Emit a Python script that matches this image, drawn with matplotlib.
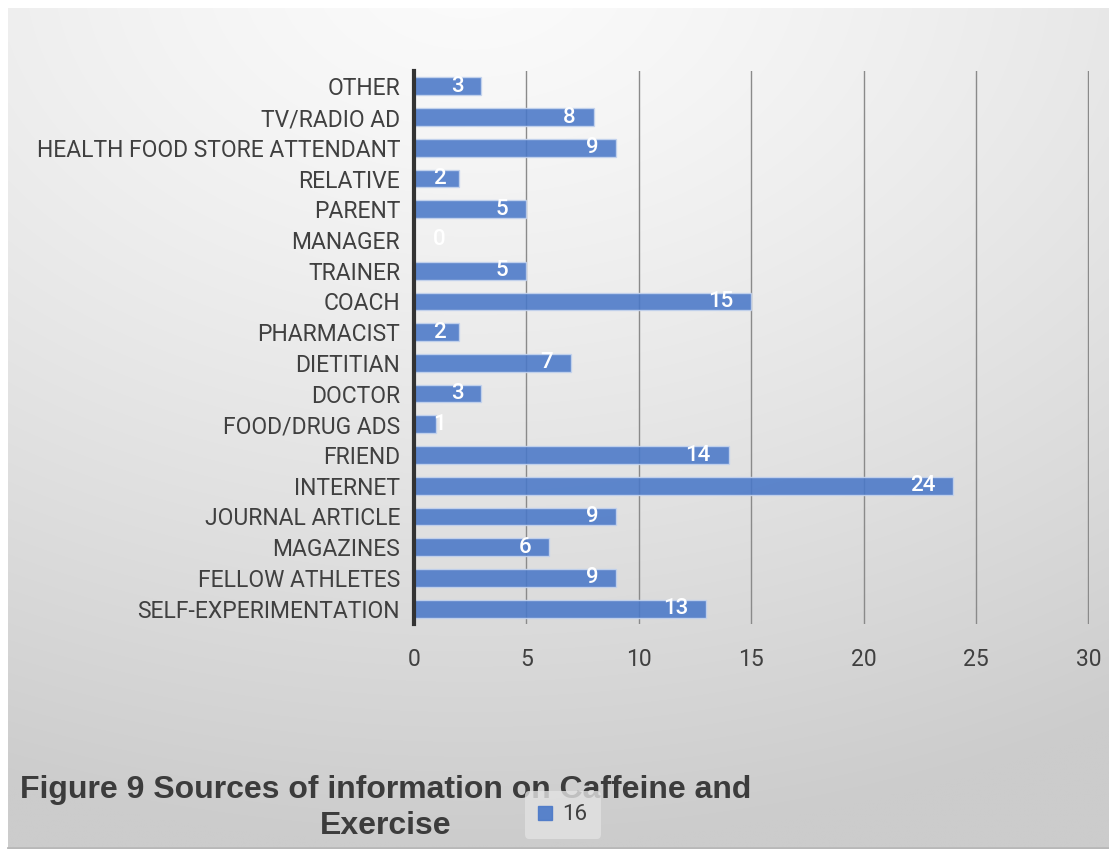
import numpy as np
import matplotlib
matplotlib.use("Agg")
from matplotlib import pyplot as plt
from matplotlib.patches import Patch

# sources, listed bottom to top
categories = ["SELF-EXPERIMENTATION", "FELLOW ATHLETES", "MAGAZINES", "JOURNAL ARTICLE",
              "INTERNET", "FRIEND", "FOOD/DRUG ADS", "DOCTOR", "DIETITIAN", "PHARMACIST",
              "COACH", "TRAINER", "MANAGER", "PARENT", "RELATIVE",
              "HEALTH FOOD STORE ATTENDANT", "TV/RADIO AD", "OTHER"]
counts = [13, 9, 6, 9, 24, 14, 1, 3, 7, 2, 15, 5, 0, 5, 2, 9, 8, 3]
xticks = [0, 5, 10, 15, 20, 25, 30]
series_name = "16"
title = "Figure 9 Sources of information on Caffeine and\nExercise"

W, H = 1109, 849
fig = plt.figure(figsize=(W / 100, H / 100), dpi=100)
fig.patch.set_facecolor("white")

# grey radial backdrop behind the chart area
bg = fig.add_axes([8 / W, 0, 1 - 8 / W, 1 - 8 / H])
yy, xx = np.mgrid[0:1:300j, 0:1:400j]
r = np.sqrt(((xx - 0.42) * 1.0) ** 2 + ((yy - (-0.05)) * 1.1) ** 2)
t = np.clip(r / 1.15, 0, 1) ** 1.3
light = np.array([0.985, 0.985, 0.985])
dark = np.array([0.80, 0.80, 0.80])
img = light[None, None, :] * (1 - t[..., None]) + dark[None, None, :] * t[..., None]
bg.imshow(img, aspect="auto", extent=[0, 1, 1, 0], interpolation="bilinear")
bg.set_xlim(0, 1)
bg.set_ylim(1, 0)
bg.axis("off")
bg.plot([0, 1], [0.001, 0.001], color="#b8b8b8", lw=2, transform=bg.transAxes, clip_on=False)

ax = fig.add_axes([414 / W, 1 - 624 / H, (1089 - 414) / W, (624 - 71) / H])
ax.patch.set_alpha(0)
y = np.arange(len(categories))
ax.barh(y, counts, height=0.58, color="#4a78c8", alpha=0.88,
        edgecolor="#c5d4ee", linewidth=1.0, zorder=3)
ax.set_xlim(0, 30.03)
ax.set_ylim(-0.5, len(categories) - 0.5)
ax.set_xticks(xticks)
ax.set_yticks(y)
ax.set_yticklabels(categories)
ax.grid(axis="x", color="#8a8a8a", lw=1.0, zorder=1)
ax.set_axisbelow(True)
for s in ["top", "right", "bottom"]:
    ax.spines[s].set_visible(False)
ax.spines["left"].set_color("#333333")
ax.spines["left"].set_linewidth(3)
ax.spines["left"].set_zorder(4)
ax.tick_params(length=0, labelcolor="#404040")
ax.tick_params(axis="y", labelsize=16.5, pad=10)
ax.tick_params(axis="x", labelsize=16.5, pad=17)
for lab in ax.get_xticklabels() + ax.get_yticklabels():
    lab.set_family("Roboto")

# value labels inside bar end, kept off the axis for short bars
for yi, v in zip(y, counts):
    ax.text(max(v - 0.8, 1.42), yi, str(v), ha="right", va="center",
            color="white", fontsize=16, fontweight="medium", family="Roboto", zorder=5)

fig.text(386 / W, 1 - 808 / H, title, ha="center", va="center", fontsize=23,
         fontweight="bold", family="Liberation Sans", color="#3c3c3c", linespacing=1.3)

leg = fig.legend(handles=[Patch(color="#4a78c8", alpha=0.9, label=series_name)],
                 loc="center", bbox_to_anchor=(563 / W, 1 - 815 / H),
                 frameon=True, fontsize=16, handlelength=0.6, handleheight=0.6,
                 handletextpad=0.5, borderpad=0.6)
leg.get_frame().set_facecolor("#e2e2e2")
leg.get_frame().set_edgecolor("none")
leg.get_frame().set_alpha(0.8)
for tx in leg.get_texts():
    tx.set_color("#404040")
    tx.set_family("Roboto")

fig.savefig("out.png", dpi=100)
